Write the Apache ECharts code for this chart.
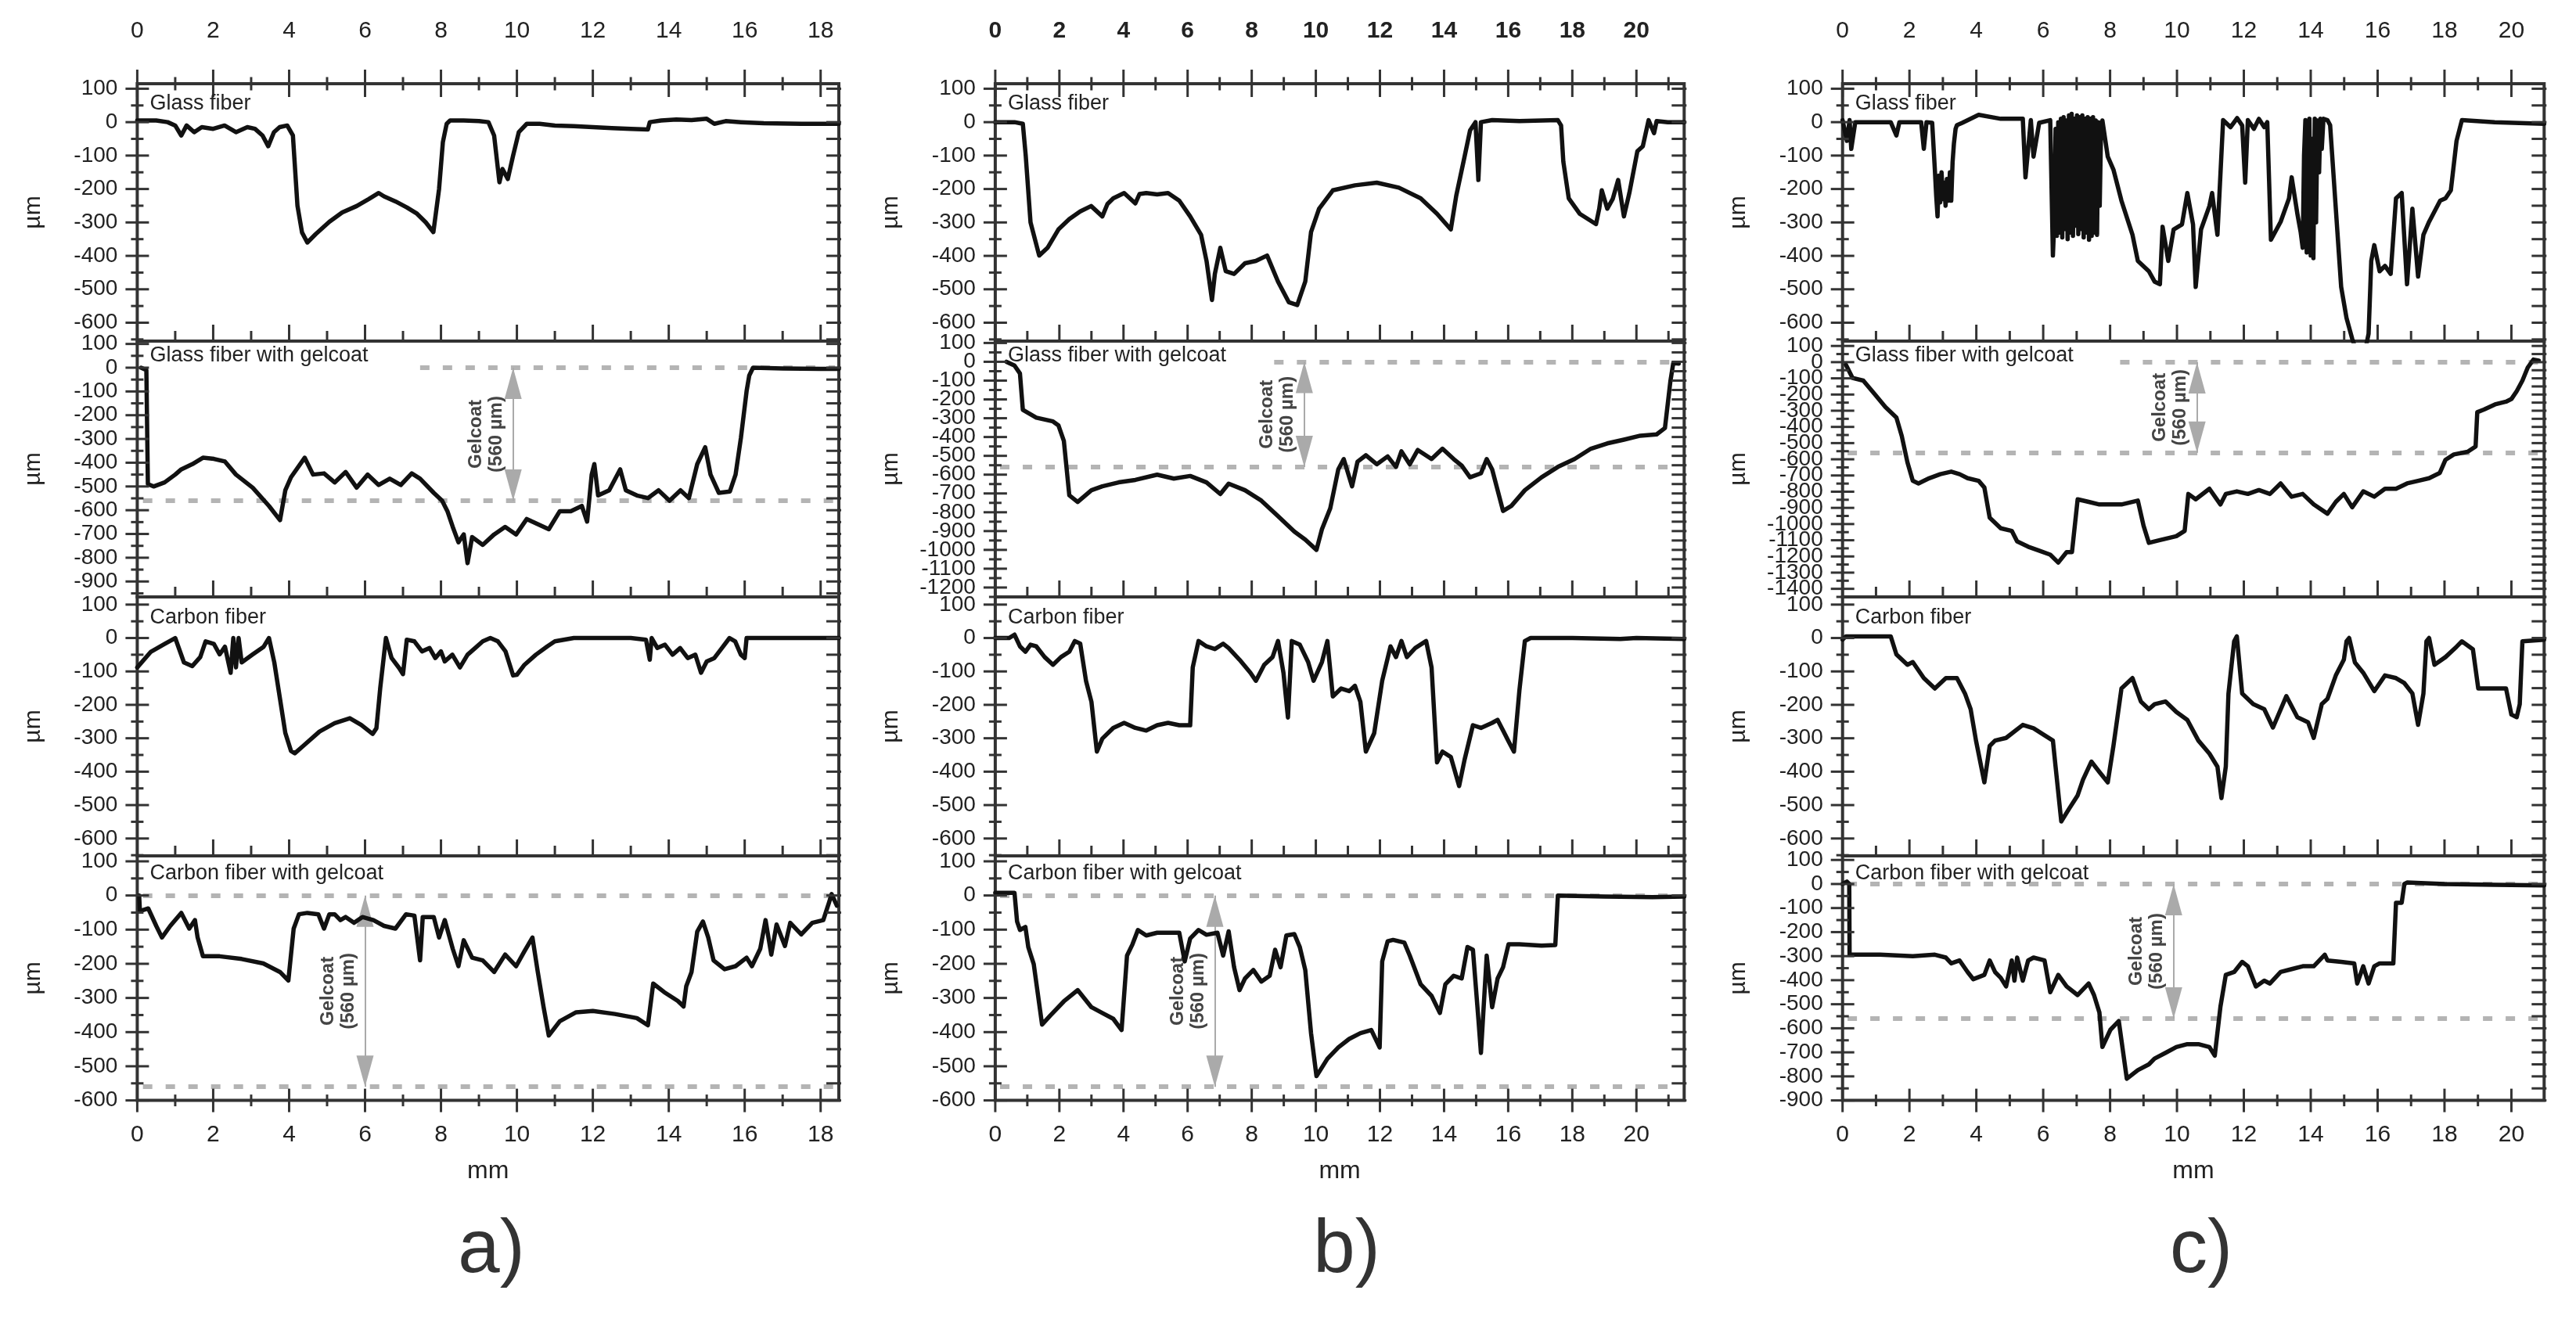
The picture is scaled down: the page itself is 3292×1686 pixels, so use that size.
<!DOCTYPE html>
<html><head><meta charset="utf-8">
<script src="https://cdn.jsdelivr.net/npm/echarts@6/dist/echarts.min.js"></script>
<style>html,body{margin:0;padding:0;background:#fff}#c{width:3292px;height:1686px}</style>
</head><body><div id="c"></div>
<script>
// ---------------- DATA (mm, µm) ----------------
const glassFiberA = [[0,5],[0.5,5],[0.8,0],[1.0,-10],[1.16,-40],[1.3,-10],[1.5,-30],[1.7,-15],[2.0,-20],[2.3,-10],[2.6,-30],[2.9,-15],[3.1,-20],[3.3,-40],[3.45,-72],[3.6,-30],[3.75,-15],[3.95,-10],[4.1,-40],[4.22,-250],[4.34,-330],[4.48,-360],[4.7,-335],[5.06,-298],[5.4,-270],[5.78,-251],[6.1,-230],[6.36,-212],[6.5,-222],[6.8,-237],[7.1,-255],[7.37,-274],[7.6,-300],[7.8,-329],[7.95,-200],[8.05,-60],[8.15,-5],[8.24,5],[8.6,5],[9.0,3],[9.25,0],[9.4,-40],[9.54,-180],[9.62,-140],[9.69,-155],[9.76,-170],[9.9,-100],[10.05,-30],[10.26,-5],[10.6,-5],[11.0,-10],[11.5,-12],[12.0,-15],[12.5,-18],[13.0,-20],[13.45,-22],[13.5,0],[13.8,5],[14.2,8],[14.6,6],[15.0,10],[15.2,-5],[15.5,3],[15.9,0],[16.5,-3],[17.5,-5],[18.48,-5]];
const glassGelcoatA = [[0.1,0],[0.24,-10],[0.28,-490],[0.43,-500],[0.72,-483],[1.0,-450],[1.16,-428],[1.45,-406],[1.73,-379],[2.02,-384],[2.31,-395],[2.6,-450],[3.04,-505],[3.47,-582],[3.76,-642],[3.9,-516],[4.05,-461],[4.41,-379],[4.63,-450],[4.92,-445],[5.2,-483],[5.49,-439],[5.78,-505],[6.07,-450],[6.36,-494],[6.65,-467],[6.94,-494],[7.23,-445],[7.45,-467],[7.81,-527],[8.03,-560],[8.17,-604],[8.31,-670],[8.46,-735],[8.6,-702],[8.7,-823],[8.82,-713],[9.1,-746],[9.4,-702],[9.69,-670],[9.98,-702],[10.26,-637],[10.55,-659],[10.84,-680],[11.13,-604],[11.42,-604],[11.71,-582],[11.85,-648],[11.97,-450],[12.04,-406],[12.14,-538],[12.43,-516],[12.72,-428],[12.87,-516],[13.16,-538],[13.45,-549],[13.73,-516],[14.02,-560],[14.31,-516],[14.53,-549],[14.75,-406],[14.96,-335],[15.1,-450],[15.32,-527],[15.61,-521],[15.76,-450],[15.9,-296],[16.05,-99],[16.12,-33],[16.22,0],[17,-3],[18,-5],[18.48,-5]];
const carbonFiberA = [[0,-88],[0.36,-41],[0.72,-18],[1.0,0],[1.23,-73],[1.45,-84],[1.66,-57],[1.8,-10],[2.02,-18],[2.17,-49],[2.31,-26],[2.46,-104],[2.53,0],[2.6,-88],[2.67,0],[2.75,-73],[3.04,-49],[3.33,-26],[3.47,0],[3.61,-73],[3.76,-182],[3.9,-284],[4.05,-338],[4.15,-345],[4.4,-320],[4.8,-280],[5.2,-255],[5.6,-240],[5.9,-260],[6.2,-287],[6.3,-270],[6.4,-150],[6.5,-50],[6.55,0],[6.7,-60],[6.9,-90],[7.0,-108],[7.1,-5],[7.3,-10],[7.5,-40],[7.7,-30],[7.85,-60],[8.0,-40],[8.1,-70],[8.3,-50],[8.5,-88],[8.7,-50],[8.9,-30],[9.1,-10],[9.3,0],[9.5,-10],[9.7,-40],[9.9,-112],[10.0,-110],[10.2,-80],[10.5,-50],[10.8,-25],[11.0,-10],[11.5,0],[12.0,0],[13.0,0],[13.4,-5],[13.5,-65],[13.55,0],[13.7,-30],[13.9,-20],[14.1,-50],[14.3,-30],[14.5,-60],[14.7,-50],[14.85,-104],[15.0,-70],[15.2,-60],[15.4,-30],[15.6,0],[15.75,-10],[15.9,-50],[16.0,-60],[16.05,0],[17,0],[18.48,0]];
const carbonGelcoatA = [[0.05,0],[0.07,-46],[0.29,-38],[0.5,-89],[0.65,-123],[0.87,-89],[1.16,-51],[1.37,-97],[1.52,-72],[1.59,-123],[1.73,-178],[2.17,-178],[2.75,-186],[3.32,-199],[3.76,-224],[3.98,-249],[4.12,-97],[4.26,-55],[4.48,-51],[4.77,-55],[4.92,-97],[5.06,-55],[5.2,-55],[5.35,-72],[5.49,-63],[5.71,-80],[5.93,-63],[6.22,-72],[6.5,-89],[6.8,-97],[7.08,-55],[7.3,-59],[7.45,-190],[7.52,-63],[7.81,-63],[7.95,-123],[8.1,-72],[8.31,-156],[8.46,-207],[8.6,-131],[8.82,-182],[9.1,-190],[9.4,-224],[9.69,-173],[9.98,-207],[10.19,-165],[10.41,-123],[10.55,-224],[10.7,-325],[10.84,-410],[11.13,-368],[11.56,-342],[12.0,-338],[12.58,-347],[13.16,-359],[13.45,-380],[13.59,-258],[13.88,-283],[14.24,-309],[14.39,-325],[14.46,-266],[14.6,-224],[14.75,-106],[14.9,-76],[15.04,-123],[15.18,-190],[15.47,-216],[15.76,-207],[16.05,-182],[16.19,-207],[16.41,-156],[16.55,-72],[16.7,-173],[16.84,-85],[17.06,-148],[17.2,-80],[17.49,-114],[17.78,-80],[18.07,-72],[18.22,-21],[18.29,4],[18.43,-30]];

const glassFiberB = [[0,0],[0.6,0],[0.86,-5],[0.95,-100],[1.1,-300],[1.37,-399],[1.63,-376],[1.97,-321],[2.31,-290],[2.65,-267],[2.99,-251],[3.34,-282],[3.5,-245],[3.68,-228],[4.02,-212],[4.37,-243],[4.5,-215],[4.71,-212],[5.05,-216],[5.39,-212],[5.74,-235],[6.08,-282],[6.42,-337],[6.59,-415],[6.76,-532],[6.85,-454],[7.02,-376],[7.19,-446],[7.45,-454],[7.79,-422],[8.13,-415],[8.48,-399],[8.82,-477],[9.16,-539],[9.42,-547],[9.67,-477],[9.85,-329],[10.1,-259],[10.53,-204],[11.22,-189],[11.9,-181],[12.59,-196],[13.27,-228],[13.78,-274],[14.21,-321],[14.38,-220],[14.64,-103],[14.81,-25],[14.98,0],[15.07,-173],[15.15,0],[15.5,6],[16.35,3],[17.55,6],[17.65,-10],[17.72,-118],[17.89,-228],[18.23,-274],[18.74,-305],[18.84,-259],[18.92,-204],[19.09,-259],[19.26,-230],[19.43,-173],[19.61,-282],[19.78,-212],[20.03,-87],[20.2,-72],[20.38,6],[20.55,-33],[20.63,3],[20.98,0],[21.49,0]];
const glassGelcoatB = [[0.35,0],[0.6,-20],[0.77,-62],[0.86,-255],[1.28,-297],[1.8,-317],[1.97,-338],[2.14,-421],[2.31,-710],[2.57,-745],[3.0,-683],[3.34,-662],[3.85,-641],[4.37,-628],[5.05,-600],[5.57,-621],[6.08,-607],[6.59,-641],[7.02,-703],[7.28,-648],[7.79,-683],[8.3,-738],[8.82,-821],[9.33,-903],[9.67,-945],[10.02,-1000],[10.19,-890],[10.45,-779],[10.7,-572],[10.87,-517],[11.13,-662],[11.3,-531],[11.56,-497],[11.9,-545],[12.24,-503],[12.5,-559],[12.67,-476],[12.93,-545],[13.18,-469],[13.61,-517],[13.95,-462],[14.3,-517],[14.55,-552],[14.81,-614],[15.15,-593],[15.33,-517],[15.5,-572],[15.84,-793],[16.1,-766],[16.52,-683],[17.04,-614],[17.55,-559],[18.07,-517],[18.58,-462],[19.09,-434],[19.61,-414],[20.12,-393],[20.63,-386],[20.89,-352],[21.06,-103],[21.15,-7],[21.32,-10]];
const carbonFiberB = [[0,0],[0.43,0],[0.6,10],[0.77,-25],[0.94,-41],[1.1,-20],[1.28,-25],[1.54,-57],[1.8,-80],[2.05,-57],[2.31,-41],[2.48,-9],[2.65,-17],[2.83,-128],[3.0,-191],[3.17,-340],[3.34,-301],[3.68,-269],[4.02,-254],[4.37,-269],[4.71,-277],[5.05,-261],[5.39,-254],[5.74,-261],[6.08,-261],[6.16,-88],[6.34,-9],[6.59,-25],[6.85,-33],[7.11,-17],[7.28,-30],[7.62,-65],[7.96,-104],[8.13,-128],[8.39,-80],[8.65,-57],[8.82,-9],[8.99,-104],[9.13,-238],[9.25,-9],[9.5,-20],[9.76,-72],[9.93,-128],[10.19,-72],[10.36,-9],[10.53,-175],[10.79,-151],[11.04,-159],[11.22,-143],[11.39,-191],[11.56,-340],[11.82,-285],[12.07,-128],[12.33,-25],[12.5,-57],[12.67,-9],[12.84,-57],[13.1,-30],[13.44,-9],[13.61,-88],[13.78,-372],[13.95,-340],[14.21,-356],[14.47,-443],[14.64,-364],[14.9,-261],[15.15,-269],[15.5,-254],[15.67,-245],[15.84,-277],[16.01,-309],[16.18,-340],[16.35,-157],[16.52,-9],[16.7,0],[18,0],[19.5,-3],[20,0],[21.49,-3]];
const carbonGelcoatB = [[0,8],[0.6,8],[0.68,-76],[0.77,-101],[0.94,-92],[1.03,-151],[1.2,-201],[1.46,-378],[1.71,-352],[2.14,-310],[2.57,-277],[3.0,-327],[3.34,-344],[3.68,-361],[3.94,-394],[4.11,-176],[4.28,-143],[4.45,-101],[4.71,-117],[5.05,-109],[5.39,-109],[5.74,-109],[5.91,-193],[6.08,-126],[6.34,-101],[6.59,-115],[6.93,-109],[7.11,-176],[7.28,-105],[7.45,-210],[7.62,-277],[7.79,-243],[8.05,-218],[8.3,-252],[8.56,-235],[8.73,-159],[8.9,-210],[9.08,-117],[9.33,-113],[9.5,-151],[9.67,-218],[9.85,-403],[10.02,-529],[10.36,-478],[10.7,-445],[11.04,-420],[11.39,-403],[11.73,-394],[11.99,-445],[12.07,-193],[12.24,-134],[12.41,-130],[12.76,-138],[12.93,-176],[13.27,-260],[13.61,-294],[13.87,-344],[14.04,-260],[14.3,-235],[14.55,-243],[14.73,-151],[14.9,-159],[15.07,-361],[15.15,-461],[15.33,-176],[15.5,-327],[15.67,-243],[15.84,-210],[16.01,-143],[16.35,-143],[17.04,-147],[17.47,-145],[17.55,0],[19,-3],[20.5,-5],[21.49,-3]];

const glassFiberC = [[0,6],[0.13,-56],[0.21,6],[0.26,-80],[0.38,0],[1.0,0],[1.44,0],[1.61,-40],[1.7,0],[2.35,0],[2.43,-80],[2.51,0],[2.68,-2],[2.76,-142],[2.8,-220],[2.84,-282],[2.88,-160],[2.92,-240],[2.96,-150],[3.0,-230],[3.04,-181],[3.08,-250],[3.12,-170],[3.17,-235],[3.21,-150],[3.25,-235],[3.29,-120],[3.33,-64],[3.38,-20],[3.42,-9],[3.58,-2],[4.07,22],[4.73,10],[5.39,10],[5.47,-165],[5.63,6],[5.71,-103],[5.88,-2],[6.21,6],[6.29,-399],[6.33,-300],[6.37,-20],[6.41,-340],[6.45,0],[6.49,-330],[6.53,10],[6.57,-345],[6.61,15],[6.65,-320],[6.69,5],[6.73,-350],[6.77,20],[6.81,-330],[6.85,25],[6.89,-340],[6.93,10],[6.97,-310],[7.01,20],[7.05,-335],[7.09,15],[7.13,-320],[7.17,20],[7.21,-345],[7.25,10],[7.29,-330],[7.33,15],[7.37,-352],[7.41,10],[7.45,-340],[7.49,15],[7.53,-330],[7.57,5],[7.61,-337],[7.65,0],[7.69,-250],[7.73,-20],[7.77,5],[7.93,-103],[8.1,-142],[8.34,-235],[8.67,-337],[8.83,-415],[9.16,-446],[9.33,-477],[9.49,-485],[9.57,-313],[9.74,-415],[9.9,-321],[10.15,-306],[10.31,-212],[10.48,-306],[10.56,-493],[10.72,-321],[10.97,-251],[11.05,-212],[11.21,-337],[11.38,6],[11.6,-15],[11.8,12],[11.95,-10],[12.04,-181],[12.12,6],[12.3,-20],[12.45,10],[12.61,-15],[12.7,0],[12.81,-352],[13.1,-298],[13.35,-228],[13.43,-165],[13.6,-274],[13.7,-330],[13.76,-376],[13.8,-100],[13.84,6],[13.88,-390],[13.92,-200],[13.96,10],[14.0,-399],[14.04,-50],[14.08,-407],[14.12,10],[14.16,-300],[14.2,5],[14.25,-150],[14.29,10],[14.33,-80],[14.38,10],[14.5,6],[14.58,-9],[14.75,-259],[14.91,-493],[15.07,-586],[15.24,-648],[15.32,-672],[15.65,-672],[15.73,-633],[15.81,-415],[15.9,-368],[16.06,-446],[16.22,-430],[16.39,-454],[16.55,-228],[16.72,-212],[16.88,-485],[17.04,-259],[17.21,-462],[17.37,-337],[17.54,-298],[17.87,-235],[18.03,-228],[18.19,-204],[18.36,-56],[18.52,6],[19.5,0],[20.98,-5]];
const glassGelcoatC = [[0.1,-16],[0.3,-98],[0.62,-114],[0.95,-195],[1.28,-277],[1.61,-342],[1.77,-456],[1.94,-619],[2.1,-733],[2.27,-749],[2.59,-717],[2.92,-692],[3.25,-676],[3.5,-692],[3.74,-717],[4.07,-733],[4.24,-774],[4.4,-961],[4.73,-1026],[5.06,-1042],[5.22,-1107],[5.55,-1140],[5.88,-1164],[6.21,-1189],[6.45,-1238],[6.7,-1173],[6.86,-1173],[7.03,-847],[7.36,-863],[7.68,-879],[8.01,-879],[8.34,-879],[8.83,-855],[9.0,-1010],[9.16,-1116],[9.49,-1099],[9.98,-1075],[10.23,-1042],[10.34,-814],[10.56,-847],[10.97,-782],[11.3,-879],[11.46,-814],[11.79,-798],[12.12,-814],[12.45,-790],[12.78,-814],[13.1,-749],[13.43,-831],[13.76,-814],[14.09,-879],[14.5,-936],[14.75,-863],[14.99,-814],[15.24,-896],[15.57,-798],[15.9,-831],[16.22,-782],[16.55,-782],[16.88,-749],[17.21,-733],[17.54,-717],[17.86,-684],[18.03,-603],[18.28,-570],[18.69,-554],[18.93,-521],[18.98,-309],[19.18,-293],[19.51,-261],[19.84,-244],[20.0,-228],[20.16,-179],[20.33,-114],[20.49,-33],[20.66,16],[20.82,10]];
const carbonFiberC = [[0,-5],[0.1,5],[1.44,5],[1.61,-49],[1.94,-80],[2.1,-72],[2.43,-120],[2.76,-151],[3.09,-120],[3.42,-120],[3.66,-166],[3.83,-213],[3.99,-307],[4.24,-432],[4.4,-323],[4.56,-307],[4.89,-299],[5.39,-260],[5.71,-270],[6.04,-291],[6.29,-307],[6.37,-385],[6.54,-549],[6.78,-510],[7.03,-471],[7.19,-424],[7.44,-370],[7.68,-401],[7.93,-432],[8.1,-323],[8.34,-151],[8.67,-120],[8.92,-190],[9.16,-213],[9.33,-198],[9.66,-190],[9.98,-221],[10.31,-245],[10.64,-307],[10.97,-346],[11.21,-385],[11.33,-479],[11.46,-385],[11.54,-166],[11.71,-10],[11.79,5],[11.95,-166],[12.28,-198],[12.61,-213],[12.87,-268],[13.27,-174],[13.6,-237],[13.92,-252],[14.09,-299],[14.33,-198],[14.5,-182],[14.75,-112],[14.99,-65],[15.07,-10],[15.15,0],[15.32,-73],[15.57,-104],[15.9,-159],[16.22,-112],[16.55,-120],[16.8,-135],[17.04,-166],[17.21,-260],[17.37,-166],[17.46,-10],[17.54,0],[17.7,-80],[18.03,-57],[18.36,-26],[18.52,-10],[18.85,-34],[19.01,-151],[19.51,-151],[19.84,-151],[20.0,-229],[20.16,-237],[20.25,-198],[20.33,-10],[20.98,-5]];
const carbonGelcoatC = [[0,0],[0.13,10],[0.2,0],[0.21,-294],[1.12,-294],[2.1,-300],[2.76,-294],[3.09,-306],[3.25,-330],[3.5,-318],[3.74,-366],[3.91,-396],[4.24,-378],[4.4,-318],[4.56,-366],[4.73,-390],[4.89,-426],[5.06,-318],[5.14,-402],[5.22,-306],[5.39,-402],[5.55,-318],[5.71,-306],[6.04,-318],[6.21,-450],[6.45,-378],[6.7,-426],[7.03,-462],[7.36,-414],[7.52,-462],[7.68,-534],[7.77,-678],[8.01,-606],[8.26,-570],[8.5,-810],[8.83,-774],[9.16,-750],[9.33,-726],[9.66,-702],[9.98,-678],[10.31,-666],[10.64,-666],[10.97,-678],[11.13,-714],[11.3,-510],[11.46,-378],[11.71,-366],[11.95,-324],[12.12,-342],[12.36,-426],[12.61,-402],[12.78,-414],[13.1,-366],[13.43,-354],[13.76,-342],[14.09,-342],[14.42,-294],[14.5,-318],[14.91,-324],[15.3,-330],[15.39,-414],[15.57,-342],[15.73,-414],[15.9,-342],[16.06,-330],[16.47,-330],[16.55,-78],[16.72,-78],[16.8,0],[16.88,6],[18,0],[19.5,-3],[20.98,-6]];

// ---------------- LABELS / AXIS VALUES ----------------
const columnLabels = ['a)', 'b)', 'c)'];
const rowTitles = ['Glass fiber', 'Glass fiber with gelcoat', 'Carbon fiber', 'Carbon fiber with gelcoat'];
const xMaxByCol = [18.48, 21.49, 20.98];
const yMinByCol = [[-655, -965, -652, -600], [-655, -1250, -652, -600], [-655, -1450, -652, -900]];
const yMaxByCol = [[115, 112, 123, 116], [115, 110, 123, 116], [115, 130, 123, 117]];
const xMajorStep = 2, xMinorStep = 1, yMajorStep = 100, yMinorStep = 50;
const gelcoatTop = 0;
const gelcoatBottom = -560;
const gelcoatLabel = 'Gelcoat\n(560 µm)';
const arrowXRow2 = [9.9, 9.64, 10.6];
const arrowXRow4 = [6.0, 6.85, 9.9];
const topDashStartRow2 = [7.45, 8.7, 8.3];
const dashStartDefault = 0.15;
const xUnit = 'mm';
const yUnit = 'µm';

const panelData = [
  [glassFiberA, glassGelcoatA, carbonFiberA, carbonGelcoatA],
  [glassFiberB, glassGelcoatB, carbonFiberB, carbonGelcoatB],
  [glassFiberC, glassGelcoatC, carbonFiberC, carbonGelcoatC]
];

// ---------------- LAYOUT / STYLE ----------------
const COL_LEFT = [175.4, 1271.9, 2354.7];
const COL_W = [896.6, 880.4, 896.6];
const ROW_TOP = [107, 436, 763, 1094];
const ROW_H = [329, 327, 331, 312.6];
const TITLE_DY = [26, 19, 27, 23];
const COL_LABEL_X = [628, 1721, 2813];
const COL_LABEL_Y = 1600;
const FONT = "'Liberation Sans', Arial, Helvetica, sans-serif";
const INK = '#222';
const Y_LABEL_FONT = '28px ' + FONT;
const Y_LABEL_GAP = 25;
// tick kinds: [direction, side, from px, to px] offsets along the normal of the axis
const TICK_KINDS = [
  ['y', 'left', -15, 15],    // 0 left major
  ['y', 'left', -8, 8],      // 1 left minor
  ['y', 'right', -16, 3],    // 2 right
  ['x', 'bottom', -21, 0],   // 3 bottom inner major
  ['x', 'bottom', -13, 0],   // 4 bottom inner minor
  ['x', 'bottom', -15, 15],  // 5 bottom crossing major
  ['x', 'bottom', -7.5, 7.5],// 6 bottom crossing minor
  ['x', 'top', -18, 17],     // 7 top crossing major
  ['x', 'top', -8.5, 8.5],   // 8 top crossing minor
  ['label', 'left', 0, 0]    // 9 y tick label
];

function multiples(min, max, step, skip) {
  const out = [];
  const start = Math.ceil(min / step - 1e-9);
  const end = Math.floor(max / step + 1e-9);
  for (let k = start; k <= end; k++) {
    const v = Math.round(k * step * 1000) / 1000;
    if (skip && Math.abs(v / skip - Math.round(v / skip)) < 1e-9) continue;
    out.push(v);
  }
  return out;
}

const option = {
  animation: false,
  backgroundColor: '#ffffff',
  textStyle: {fontFamily: FONT},
  grid: [], xAxis: [], yAxis: [], series: [],
  graphic: {elements: []}
};

const plain = v => String(v);

for (let c = 0; c < 3; c++) {
  for (let r = 0; r < 4; r++) {
    const g = option.grid.length;
    option.grid.push({
      left: COL_LEFT[c], top: ROW_TOP[r], width: COL_W[c], height: ROW_H[r],
      show: true, borderColor: '#333', borderWidth: 4, backgroundColor: 'rgba(0,0,0,0)',
      containLabel: false, outerBoundsMode: 'none'
    });
    const xmax = xMaxByCol[c];
    const ymin = yMinByCol[c][r], ymax = yMaxByCol[c][r];
    const evens = multiples(0, xmax, xMajorStep);
    const odds = multiples(0, xmax, xMinorStep, xMajorStep);
    const hundreds = multiples(ymin, ymax, yMajorStep);
    const fiftiesOnly = multiples(ymin, ymax, yMinorStep, yMajorStep);
    const fifties = multiples(ymin, ymax, yMinorStep);

    const xIdx = option.xAxis.length;
    option.xAxis.push({
      type: 'value', gridIndex: g, min: 0, max: xmax, position: 'bottom',
      splitLine: {show: false}, axisLine: {show: false, onZero: false}, axisTick: {show: false},
      axisLabel: r === 3 ? {show: true, customValues: evens, formatter: plain, margin: 29, fontSize: 30, color: INK, fontFamily: FONT, showMinLabel: true, showMaxLabel: true, hideOverlap: false} : {show: false},
      name: r === 3 ? xUnit : '', nameLocation: 'middle', nameGap: 75, nameMoveOverlap: false,
      nameTextStyle: {fontSize: 32, color: INK, fontFamily: FONT}
    });
    if (r === 0) {
      option.xAxis.push({
        type: 'value', gridIndex: g, min: 0, max: xmax, position: 'top',
        splitLine: {show: false}, axisLine: {show: false, onZero: false}, axisTick: {show: false},
        axisLabel: {show: true, customValues: evens, formatter: plain, margin: 52, fontSize: 30, color: INK,
          fontWeight: c === 1 ? 'bold' : 'normal', fontFamily: FONT, showMinLabel: true, showMaxLabel: true, hideOverlap: false}
      });
    }
    const yIdx = option.yAxis.length;
    option.yAxis.push({
      type: 'value', gridIndex: g, min: ymin, max: ymax, position: 'left',
      splitLine: {show: false}, axisLine: {show: false, onZero: false}, axisTick: {show: false},
      axisLabel: {show: false},
      name: yUnit, nameLocation: 'middle', nameGap: 118, nameRotate: 90, nameMoveOverlap: false,
      nameTextStyle: {fontSize: 30, color: INK, fontFamily: FONT}
    });

    // tick marks and y tick labels: placed through the axes' own scales
    const ticks = [];
    hundreds.forEach(v => ticks.push([0, v]));
    fiftiesOnly.forEach(v => ticks.push([1, v]));
    fifties.forEach(v => ticks.push([2, v]));
    if (r < 3) { evens.forEach(v => ticks.push([3, v])); odds.forEach(v => ticks.push([4, v])); }
    else { evens.forEach(v => ticks.push([5, v])); odds.forEach(v => ticks.push([6, v])); }
    if (r === 0) { evens.forEach(v => ticks.push([7, v])); odds.forEach(v => ticks.push([8, v])); }
    hundreds.forEach(v => ticks.push([9, v]));
    option.series.push({
      type: 'custom', coordinateSystem: 'cartesian2d', xAxisIndex: xIdx, yAxisIndex: yIdx,
      clip: false, silent: true, animation: false, z: 4,
      data: ticks,
      renderItem: (function (xmaxL, yminL, ymaxL) {
        return function (params, api) {
          const kind = TICK_KINDS[api.value(0)];
          const v = api.value(1);
          let p, shape;
          if (kind[0] === 'label') {
            p = api.coord([0, v]);
            return {type: 'text', x: p[0] - Y_LABEL_GAP, y: p[1],
              style: {text: plain(v), font: Y_LABEL_FONT, fill: INK, align: 'right', verticalAlign: 'middle'}};
          }
          if (kind[0] === 'y') {
            p = api.coord([kind[1] === 'left' ? 0 : xmaxL, v]);
            shape = {x1: p[0] + kind[2], y1: p[1], x2: p[0] + kind[3], y2: p[1]};
          } else {
            p = api.coord([v, kind[1] === 'bottom' ? yminL : ymaxL]);
            shape = {x1: p[0], y1: p[1] + kind[2], x2: p[0], y2: p[1] + kind[3]};
          }
          return {type: 'line', shape: shape, style: {stroke: '#333', lineWidth: 3}};
        };
      })(xmax, ymin, ymax)
    });

    const s = {
      type: 'line', name: rowTitles[r] + ' ' + columnLabels[c],
      xAxisIndex: xIdx, yAxisIndex: yIdx,
      data: panelData[c][r], showSymbol: false, symbol: 'none', silent: true, clip: true,
      z: 3, animation: false,
      lineStyle: {width: 5.5, color: '#111', join: 'round', cap: 'round'}
    };
    if (r === 1 || r === 3) {
      const ax = r === 1 ? arrowXRow2[c] : arrowXRow4[c];
      const topStart = r === 1 ? topDashStartRow2[c] : dashStartDefault;
      const head = {symbol: 'triangle', symbolSize: [22, 40], symbolOffset: [0, 20]};
      s.markLine = {
        silent: true, animation: false, z: 2, symbol: ['none', 'none'], precision: 3,
        lineStyle: {type: [12, 17], width: 6, color: '#b4b4b4', cap: 'butt'},
        label: {show: false}, emphasis: {disabled: true},
        data: [
          [{coord: [topStart, gelcoatTop]}, {coord: [xmax - 0.1, gelcoatTop]}],
          [{coord: [dashStartDefault, gelcoatBottom]}, {coord: [xmax - 0.1, gelcoatBottom]}],
          [Object.assign({coord: [ax, gelcoatBottom]}, head),
           Object.assign({coord: [ax, gelcoatTop],
             lineStyle: {type: 'solid', width: 2, color: '#aaaaaa'},
             label: {show: true, position: 'middle', formatter: gelcoatLabel, distance: 8,
               fontSize: 24, lineHeight: 26, color: '#444', fontWeight: 'bold', fontFamily: FONT}}, head)]
        ]
      };
    }
    option.series.push(s);

    option.graphic.elements.push({type: 'text', x: COL_LEFT[c] + 16, y: ROW_TOP[r] + TITLE_DY[r], silent: true, z: 10,
      style: {text: rowTitles[r], font: '27px ' + FONT, fill: INK, align: 'left', verticalAlign: 'middle'}});
  }
  option.graphic.elements.push({type: 'text', x: COL_LABEL_X[c], y: COL_LABEL_Y, silent: true,
    style: {text: columnLabels[c], font: '96px ' + FONT, fill: '#333', align: 'center', verticalAlign: 'middle'}});
}

const chart = echarts.init(document.getElementById('c'), null, {renderer: 'canvas', width: 3292, height: 1686, devicePixelRatio: 1});
chart.setOption(option);
</script></body></html>
